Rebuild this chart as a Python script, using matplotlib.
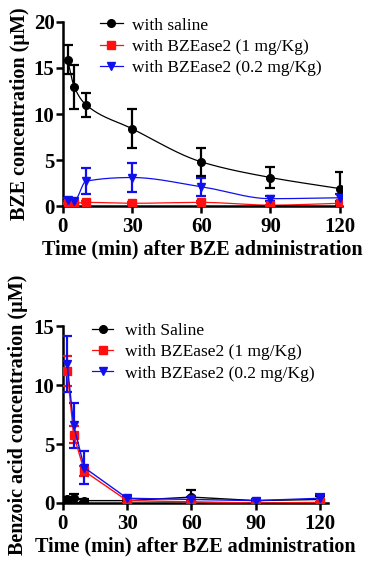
import numpy as np
import matplotlib
matplotlib.use("Agg")
import matplotlib.pyplot as plt

plt.rcParams['font.family'] = ['Liberation Serif', 'DejaVu Serif']

# ---------------- data ----------------
time_min = [2, 5, 10, 30, 60, 90, 120]
x_ticks = [0, 30, 60, 90, 120]

# Top panel: BZE concentration (uM)
bze_saline = [15.9, 12.9, 11.0, 8.4, 4.8, 3.1, 1.9]
bze_saline_err = [1.6, 2.4, 1.3, 2.1, 1.5, 1.1, 1.8]
bze_1mg = [0.3, 0.3, 0.4, 0.3, 0.4, 0.1, 0.3]
bze_1mg_err = [0.1, 0.1, 0.1, 0.1, 0.1, 0.05, 0.1]
bze_02mg = [0.7, 0.6, 2.7, 3.1, 2.1, 0.8, 0.9]
bze_02mg_err = [0.2, 0.2, 1.4, 1.6, 1.0, 0.3, 0.4]
top_yticks = [0, 5, 10, 15, 20]

# Bottom panel: benzoic acid concentration (uM)
ba_saline = [0.3, 0.4, 0.2, 0.2, 0.5, 0.2, 0.3]
ba_saline_err = [0.2, 0.4, 0.1, 0.1, 0.6, 0.1, 0.3]
ba_1mg = [11.2, 5.8, 2.7, 0.2, 0.1, 0.0, 0.05]
ba_1mg_err = [1.3, 0.7, 0.4, 0.1, 0.1, 0.05, 0.05]
ba_02mg = [11.8, 6.6, 3.0, 0.4, 0.3, 0.2, 0.4]
ba_02mg_err = [2.4, 1.9, 1.4, 0.2, 0.2, 0.1, 0.4]
bot_yticks = [0, 5, 10, 15]

labels_top = ["with saline", "with BZEase2 (1 mg/Kg)", "with BZEase2 (0.2 mg/Kg)"]
labels_bot = ["with Saline", "with BZEase2 (1 mg/Kg)", "with BZEase2 (0.2 mg/Kg)"]

BLACK, RED, BLUE = "#000000", "#ff1010", "#1010ee"


def pchip(x, y, n=300):
    """Monotone cubic smoothing line through the data (like a spline connector)."""
    x = np.asarray(x, float); y = np.asarray(y, float)
    h = np.diff(x); d = np.diff(y) / h
    m = np.zeros_like(y)
    for k in range(1, len(x) - 1):
        if d[k - 1] * d[k] > 0:
            w1 = 2 * h[k] + h[k - 1]; w2 = h[k] + 2 * h[k - 1]
            m[k] = (w1 + w2) / (w1 / d[k - 1] + w2 / d[k])
    m[0] = d[0]; m[-1] = d[-1]
    xs = np.linspace(x[0], x[-1], n)
    idx = np.clip(np.searchsorted(x, xs) - 1, 0, len(x) - 2)
    t = (xs - x[idx]) / h[idx]
    h00 = 2 * t**3 - 3 * t**2 + 1; h10 = t**3 - 2 * t**2 + t
    h01 = -2 * t**3 + 3 * t**2; h11 = t**3 - t**2
    ys = h00 * y[idx] + h10 * h[idx] * m[idx] + h01 * y[idx + 1] + h11 * h[idx] * m[idx + 1]
    return xs, ys


fig = plt.figure(figsize=(3.86, 5.63), dpi=100)
ax1 = fig.add_axes([0.163, 0.634, 0.723, 0.327])
ax2 = fig.add_axes([0.163, 0.1066, 0.688, 0.314])

tick_font = dict(fontsize=15, fontweight='bold')
label_font = dict(fontsize=14.5, fontweight='bold')
MS = 5.5


def style(ax, xlim, ylim, yt):
    ax.set_xlim(*xlim); ax.set_ylim(*ylim)
    ax.set_xticks(x_ticks); ax.set_yticks(yt)
    ax.set_xticklabels([str(v) for v in x_ticks], **tick_font)
    ax.set_yticklabels([str(v) for v in yt], **tick_font)
    for s in ['top', 'right']:
        ax.spines[s].set_visible(False)
    for s in ['left', 'bottom']:
        ax.spines[s].set_linewidth(1.8)
    ax.tick_params(width=1.8, length=5)
    ax.tick_params(axis='x', pad=3)
    ax.tick_params(axis='y', pad=1)
    ax.set_xlabel("Time (min) after BZE administration", labelpad=2, **label_font)


# ---- top panel ----
series_top = [(bze_saline, bze_saline_err, BLACK, 'o'),
              (bze_1mg, bze_1mg_err, RED, 's'),
              (bze_02mg, bze_02mg_err, BLUE, 'v')]
handles = []
for (y, e, c, mk), lab in zip(series_top, labels_top):
    xs, ys = pchip(time_min, y)
    ax1.plot(xs, ys, color=c, lw=0.9, zorder=2)
    ax1.errorbar(time_min, y, yerr=e, fmt='none', ecolor=c, elinewidth=1.6,
                 capsize=3.5, capthick=1.6, zorder=3)
    ax1.plot(time_min, y, linestyle='none', marker=mk, color=c, ms=MS, zorder=4)
    h, = ax1.plot([], [], color=c, lw=0.9, marker=mk, ms=MS, label=lab)
    handles.append(h)
style(ax1, (0, 121), (0, 20), top_yticks)
ax1.set_ylabel("BZE concentration (\u00b5M)", labelpad=3, **label_font)
ax1.legend(handles=handles, loc='upper left', bbox_to_anchor=(0.133, 1.025),
           frameon=False, fontsize=12.5, handlelength=1.3, handletextpad=0.55,
           labelspacing=0.3, borderaxespad=0, borderpad=0)

# ---- bottom panel ----
series_bot = [(ba_saline, ba_saline_err, BLACK, 'o'),
              (ba_1mg, ba_1mg_err, RED, 's'),
              (ba_02mg, ba_02mg_err, BLUE, 'v')]
handles = []
for (y, e, c, mk), lab in zip(series_bot, labels_bot):
    ax2.errorbar(time_min, y, yerr=e, color=c, lw=1.0, marker=mk, ms=MS,
                 elinewidth=1.6, capsize=3.5, capthick=1.6, zorder=3)
    h, = ax2.plot([], [], color=c, lw=0.9, marker=mk, ms=MS, label=lab)
    handles.append(h)
style(ax2, (0, 124), (0, 15), bot_yticks)
ax2.set_ylabel("Benzoic acid concentration (\u00b5M)", labelpad=4, **label_font)
ax2.legend(handles=handles, loc='upper left', bbox_to_anchor=(0.11, 1.02),
           frameon=False, fontsize=12.5, handlelength=1.2, handletextpad=0.7,
           labelspacing=0.3, borderaxespad=0, borderpad=0)

fig.savefig("out.png", dpi=100)
